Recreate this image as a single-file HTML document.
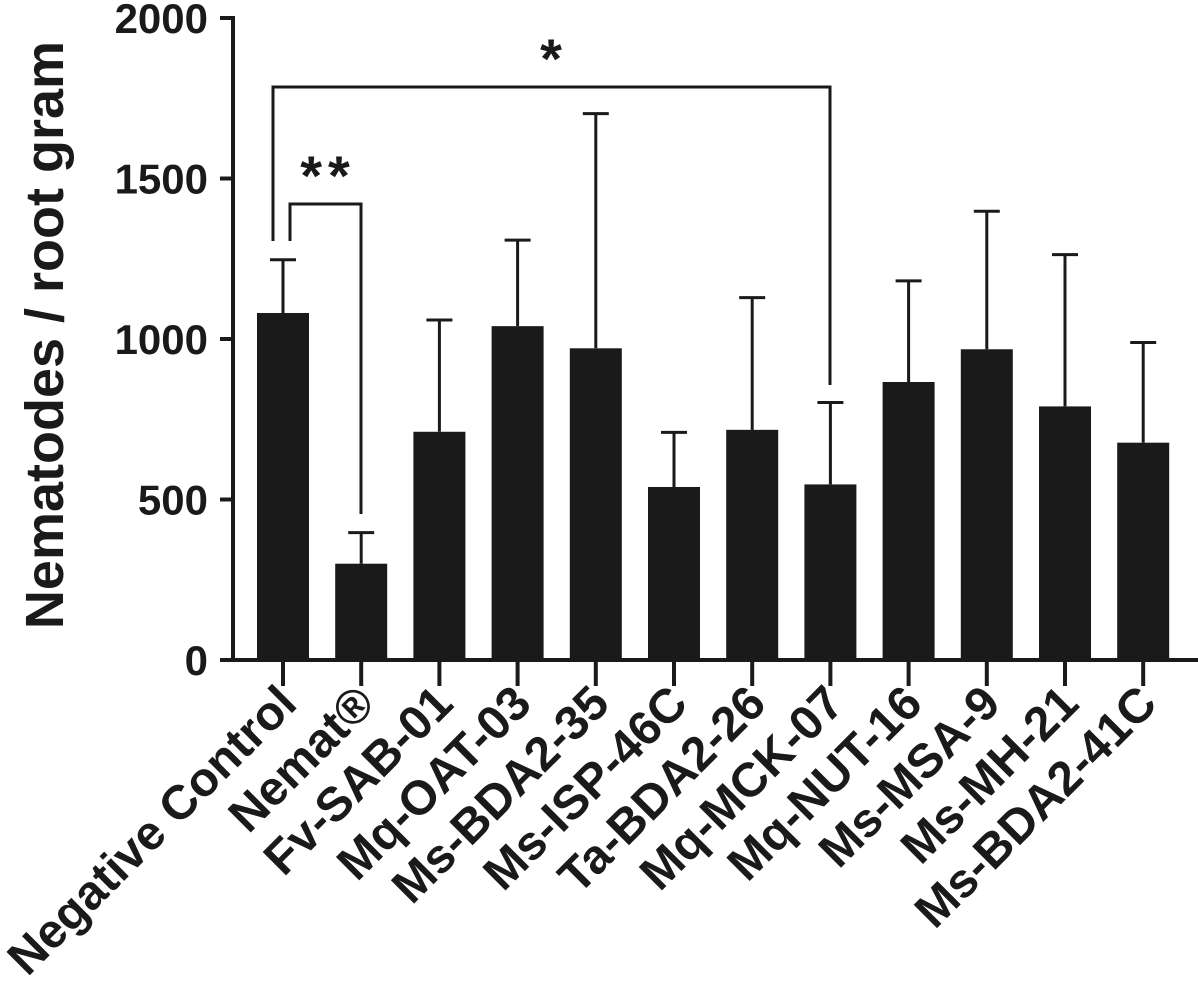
<!DOCTYPE html>
<html><head><meta charset="utf-8"><style>
html,body{margin:0;padding:0;background:#fff;}
svg{display:block;font-family:"Liberation Sans",Arial,sans-serif;}
</style></head><body>
<svg id="chart" width="1198" height="1003" viewBox="0 0 1198 1003" xmlns="http://www.w3.org/2000/svg"></svg>
<script>
const categories = ["Negative Control","Nemat®","Fv-SAB-01","Mq-OAT-03","Ms-BDA2-35","Ms-ISP-46C","Ta-BDA2-26","Mq-MCK-07","Mq-NUT-16","Ms-MSA-9","Ms-MH-21","Ms-BDA2-41C"];
const means = [1081,300,711,1040,971,539,717,547,866,968,790,677];
const errors = [166,97,348,268,731,170,412,255,315,430,473,312];
const yTicks = [0,500,1000,1500,2000];

const svg = document.getElementById('chart');
const NS = 'http://www.w3.org/2000/svg';
const y0 = 660, yTop = 18, yMax = 2000;
const x0 = 283, step = 78.2, bw = 52;
function yScale(v){ return y0 - v*(y0-yTop)/yMax; }
function xScale(i){ return x0 + i*step; }
function mk(tag, attrs){ const e = document.createElementNS(NS, tag); for (const k in attrs) e.setAttribute(k, attrs[k]); svg.appendChild(e); return e; }

let ya = mk('line',{x1:233,y1:16,x2:233,y2:662,stroke:'#1a1a1a','stroke-width':4});


yTicks.forEach(t=>{
  const l = mk('line',{x1:220,y1:yScale(t),x2:233,y2:yScale(t),stroke:'#1a1a1a','stroke-width':4});
  
  
  const tx = mk('text',{x:208,y:yScale(t)+15,'text-anchor':'end','font-size':42,'font-weight':'bold',fill:'#1a1a1a'});
  tx.textContent = t;
  
  
});
const yt = mk('text',{x:0,y:0,transform:'translate(63,335) rotate(-90)','text-anchor':'middle','font-size':54,'font-weight':'bold',fill:'#1a1a1a'});
yt.textContent = 'Nematodes / root gram';



categories.forEach((c,i)=>{
  const cx = xScale(i);
  const top = yScale(means[i]);
  const r = mk('rect',{x:cx-bw/2,y:top,width:bw,height:y0-top,fill:'#1a1a1a'});
  
  
  const et = yScale(means[i]+errors[i]);
  const el = mk('line',{x1:cx,y1:top,x2:cx,y2:et,stroke:'#1a1a1a','stroke-width':3});
  
  
  const ec = mk('line',{x1:cx-13,y1:et,x2:cx+13,y2:et,stroke:'#1a1a1a','stroke-width':3});
  
  
  const tk = mk('line',{x1:cx,y1:y0,x2:cx,y2:686,stroke:'#1a1a1a','stroke-width':4});
  
  
  const lb = mk('text',{x:0,y:0,transform:'translate('+(cx+16)+',706) rotate(-45)','text-anchor':'end','font-size':48,'font-weight':'bold',fill:'#1a1a1a'});
  lb.textContent = c;
  
  
});
let xa = mk('line',{x1:231,y1:y0,x2:1198,y2:y0,stroke:'#1a1a1a','stroke-width':4});



const b1 = mk('polyline',{points:'273,241 273,87 830,87 830,385',fill:'none',stroke:'#1a1a1a','stroke-width':3});


const s1 = mk('text',{x:551,y:78,'text-anchor':'middle','font-size':56,'font-weight':'bold',fill:'#1a1a1a'});
s1.textContent='*';


const b2 = mk('polyline',{points:'290,241 290,204 361,204 361,514',fill:'none',stroke:'#1a1a1a','stroke-width':3});


const s2 = mk('text',{x:328,y:195,'text-anchor':'middle','font-size':56,'font-weight':'bold',fill:'#1a1a1a','letter-spacing':'6'});
s2.textContent='**';


</script>
</body></html>
